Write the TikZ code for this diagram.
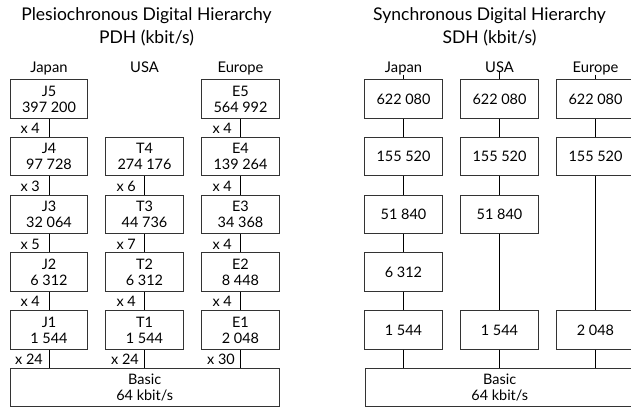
\documentclass[tikz,border=0pt]{standalone}
\usepackage{fontspec}
\setmainfont{Lato}
\begin{document}
\begin{tikzpicture}[x=1bp,y=-1bp,
  box/.style={draw=black!80, line width=0.8bp, minimum width=77.5bp, minimum height=38.5bp, inner sep=0pt, align=center, font=\fontsize{14.5}{16}\selectfont},
  wide/.style={box, minimum width=269bp},
  lab/.style={inner sep=0pt, anchor=base, font=\fontsize{14.8}{16}\selectfont},
  mult/.style={inner sep=0pt, anchor=east, font=\fontsize{14.5}{16}\selectfont},
  ttl/.style={inner sep=0pt, anchor=base, font=\fontsize{17.6}{20}\selectfont},
  conn/.style={line width=0.8bp, draw=black}]
\clip (0,0) rectangle (631,408);
% ---------- PDH ----------
\node[ttl] (pt1) at (146.5,20.5) {Plesiochronous Digital Hierarchy};
\node[ttl] (pt2) at (146.5,43) {PDH (kbit/s)};
\node[lab] (pjl) at (49,72) {Japan};
\node[lab] (pul) at (144.5,72) {USA};
\node[lab] (pel) at (240.5,72) {Europe};
% Japan
\node[box] (J5) at (49,99) {J5\\397 200};
\node[box] (J4) at (49,156.5) {J4\\97 728};
\node[box] (J3) at (49,214.5) {J3\\32 064};
\node[box] (J2) at (49,272) {J2\\6 312};
\node[box] (J1) at (49,330) {J1\\1 544};
% USA
\node[box] (T4) at (144.5,156.5) {T4\\274 176};
\node[box] (T3) at (144.5,214.5) {T3\\44 736};
\node[box] (T2) at (144.5,272) {T2\\6 312};
\node[box] (T1) at (144.5,330) {T1\\1 544};
% Europe
\node[box] (E5) at (240.5,99) {E5\\564 992};
\node[box] (E4) at (240.5,156.5) {E4\\139 264};
\node[box] (E3) at (240.5,214.5) {E3\\34 368};
\node[box] (E2) at (240.5,272) {E2\\8 448};
\node[box] (E1) at (240.5,330) {E1\\2 048};
\node[wide] (PB) at (144.75,387.5) {Basic\\64 kbit/s};
% connectors
\draw[conn] (J5) -- (J4); \draw[conn] (J4) -- (J3); \draw[conn] (J3) -- (J2); \draw[conn] (J2) -- (J1);
\draw[conn] (J1.south) -- (J1.south |- PB.north);
\draw[conn] (T4) -- (T3); \draw[conn] (T3) -- (T2); \draw[conn] (T2) -- (T1);
\draw[conn] (T1.south) -- (T1.south |- PB.north);
\draw[conn] (E5) -- (E4); \draw[conn] (E4) -- (E3); \draw[conn] (E3) -- (E2); \draw[conn] (E2) -- (E1);
\draw[conn] (E1.south) -- (E1.south |- PB.north);
% multipliers
\node[mult] (mj5) at (40,128) {x 4};
\node[mult] (mj4) at (40,186) {x 3};
\node[mult] (mj3) at (40,244) {x 5};
\node[mult] (mj2) at (40,301.5) {x 4};
\node[mult] (mj1) at (43,359) {x 24};
\node[mult] (mt4) at (136,186) {x 6};
\node[mult] (mt3) at (136,244) {x 7};
\node[mult] (mt2) at (136,301.5) {x 4};
\node[mult] (mt1) at (139,359) {x 24};
\node[mult] (me5) at (232,128) {x 4};
\node[mult] (me4) at (232,186) {x 4};
\node[mult] (me3) at (232,244) {x 4};
\node[mult] (me2) at (232,301.5) {x 4};
\node[mult] (me1) at (235,359) {x 30};
% ---------- SDH ----------
\node[ttl] (st1) at (489.5,20.5) {Synchronous Digital Hierarchy};
\node[ttl] (st2) at (489.5,43) {SDH (kbit/s)};
\node[lab] (sjl) at (403.5,72) {Japan};
\node[lab] (sul) at (499.5,72) {USA};
\node[lab] (sel) at (595.5,72) {Europe};
\node[box] (SJ1) at (403.5,99) {622 080};
\node[box] (SJ2) at (403.5,156.5) {155 520};
\node[box] (SJ3) at (403.5,214.5) {51 840};
\node[box] (SJ4) at (403.5,272) {6 312};
\node[box] (SJ5) at (403.5,330) {1 544};
\node[box] (SU1) at (499.5,99) {622 080};
\node[box] (SU2) at (499.5,156.5) {155 520};
\node[box] (SU3) at (499.5,214.5) {51 840};
\node[box] (SU5) at (499.5,330) {1 544};
\node[box] (SE1) at (595.5,99) {622 080};
\node[box] (SE2) at (595.5,156.5) {155 520};
\node[box] (SE5) at (595.5,330) {2 048};
\node[wide] (SB) at (499.75,387.5) {Basic\\64 kbit/s};
\draw[conn] (sjl.south) -- (SJ1.north);
\draw[conn] (sul.south) -- (SU1.north);
\draw[conn] (sel.south) -- (SE1.north);
\draw[conn] (SJ1) -- (SJ2); \draw[conn] (SJ2) -- (SJ3); \draw[conn] (SJ3) -- (SJ4); \draw[conn] (SJ4) -- (SJ5);
\draw[conn] (SJ5.south) -- (SJ5.south |- SB.north);
\draw[conn] (SU1) -- (SU2); \draw[conn] (SU2) -- (SU3); \draw[conn] (SU3) -- (SU5);
\draw[conn] (SU5.south) -- (SU5.south |- SB.north);
\draw[conn] (SE1) -- (SE2); \draw[conn] (SE2) -- (SE5);
\draw[conn] (SE5.south) -- (SE5.south |- SB.north);
\end{tikzpicture}
\end{document}
